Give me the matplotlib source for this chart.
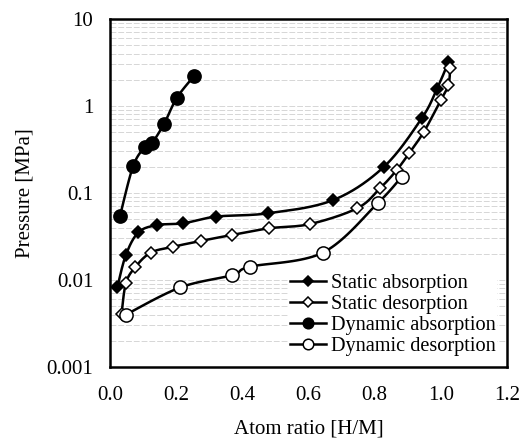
import numpy as np
import matplotlib
matplotlib.use('Agg')
from matplotlib import pyplot as plt
from matplotlib.ticker import FixedLocator, LogLocator, NullFormatter

plt.rcParams['font.family'] = ['Liberation Serif', 'DejaVu Serif']
plt.rcParams['font.size'] = 15

# H/M ratio and pressure [MPa] for each run
static_abs_x = [0.022, 0.048, 0.086, 0.143, 0.222, 0.320, 0.479, 0.675, 0.828, 0.942, 0.988, 1.023]
static_abs_p = [0.0082, 0.0194, 0.0353, 0.0428, 0.0449, 0.0535, 0.0585, 0.083, 0.200, 0.72, 1.56, 3.2]

static_des_x = [0.035, 0.048, 0.076, 0.123, 0.191, 0.274, 0.368, 0.481, 0.605, 0.748, 0.816, 0.867,
                0.905, 0.949, 1.000, 1.023, 1.028]
static_des_p = [0.0041, 0.0092, 0.0140, 0.0206, 0.0241, 0.0281, 0.0329, 0.0393, 0.044, 0.067, 0.113,
                0.184, 0.290, 0.507, 1.17, 1.74, 2.7]

dynamic_abs_x = [0.030, 0.070, 0.106, 0.126, 0.163, 0.202, 0.254]
dynamic_abs_p = [0.054, 0.204, 0.338, 0.372, 0.62, 1.24, 2.21]

dynamic_des_x = [0.048, 0.212, 0.370, 0.423, 0.643, 0.809, 0.882]
dynamic_des_p = [0.0040, 0.0082, 0.0114, 0.0142, 0.0206, 0.0762, 0.154]

x_ticks = [0.0, 0.2, 0.4, 0.6, 0.8, 1.0, 1.2]
y_ticks = [0.001, 0.01, 0.1, 1, 10]
y_tick_labels = ['0.001', '0.01', '0.1', '1', '10']

XMIN, XMAX = 0.0, 1.2
LMIN, LMAX = -3.0, 1.0


def smooth(xs, ps, n=20):
    # spreadsheet-style smoothed line: Catmull-Rom through the points,
    # worked out in axes-fraction space so the log scale is respected
    u = (np.asarray(xs) - XMIN) / (XMAX - XMIN)
    v = (np.log10(ps) - LMIN) / (LMAX - LMIN)
    pts = np.column_stack([u, v])
    pts = np.vstack([pts[0], pts, pts[-1]])
    out = []
    t = np.linspace(0, 1, n, endpoint=False)[:, None]
    for i in range(1, len(pts) - 2):
        p0, p1, p2, p3 = pts[i - 1], pts[i], pts[i + 1], pts[i + 2]
        c1 = p1 + (p2 - p0) / 6
        c2 = p2 - (p3 - p1) / 6
        seg = ((1 - t) ** 3) * p1 + 3 * ((1 - t) ** 2) * t * c1 + 3 * (1 - t) * t ** 2 * c2 + t ** 3 * p2
        out.append(seg)
    out.append(pts[-2][None, :])
    out = np.vstack(out)
    return out[:, 0] * (XMAX - XMIN) + XMIN, 10 ** (out[:, 1] * (LMAX - LMIN) + LMIN)


fig = plt.figure(figsize=(5.25, 4.38), dpi=100)
ax = fig.add_axes((110 / 525, 71 / 438, 397 / 525, 348 / 438))

series = [
    (static_abs_x, static_abs_p, 'D', 'black', 6.0, 'Static absorption'),
    (static_des_x, static_des_p, 'D', 'white', 6.0, 'Static desorption'),
    (dynamic_abs_x, dynamic_abs_p, 'o', 'black', 9.5, 'Dynamic absorption'),
    (dynamic_des_x, dynamic_des_p, 'o', 'white', 9.5, 'Dynamic desorption'),
]

for xs, ps, mk, fc, ms, label in series:
    sx, sp = smooth(xs, ps)
    ax.plot(sx, sp, color='black', lw=1.8, zorder=3)
    ax.plot(xs, ps, linestyle='none', marker=mk, ms=ms, mfc=fc, mec='black', mew=1.1, zorder=4)
    # proxy artist for the legend entry
    ax.plot([], [], color='black', lw=1.8, marker=mk, ms=ms * 0.8, mfc=fc, mec='black', mew=1.1, label=label)

ax.set_yscale('log')
ax.set_xlim(XMIN, XMAX)
ax.set_ylim(10 ** LMIN, 10 ** LMAX)
ax.xaxis.set_major_locator(FixedLocator(x_ticks))
ax.set_xticklabels([f'{v:.1f}' for v in x_ticks])
ax.yaxis.set_major_locator(FixedLocator(y_ticks))
ax.set_yticklabels(y_tick_labels)
ax.yaxis.set_minor_locator(LogLocator(base=10, subs=np.arange(2, 10)))
ax.yaxis.set_minor_formatter(NullFormatter())
ax.tick_params(axis='both', which='both', length=0)
ax.tick_params(axis='x', pad=14)
ax.tick_params(axis='y', pad=12)

ax.grid(True, axis='y', which='both', color='0.84', lw=0.7, ls=(0, (6, 2)), zorder=1)

for side in ax.spines.values():
    side.set_linewidth(1.8)

ax.set_xlabel('Atom ratio [H/M]', labelpad=10)
ax.set_ylabel('Pressure [MPa]', labelpad=9)

leg = ax.legend(loc='lower right', bbox_to_anchor=(1.0, 0.0), frameon=True, fancybox=False,
                facecolor='white', edgecolor='none', framealpha=1.0, handlelength=1.8,
                handletextpad=0.25, labelspacing=0.08, borderpad=0.05, fontsize=14.6)
leg.set_zorder(5)

fig.savefig('out.png', dpi=100, facecolor='white')
